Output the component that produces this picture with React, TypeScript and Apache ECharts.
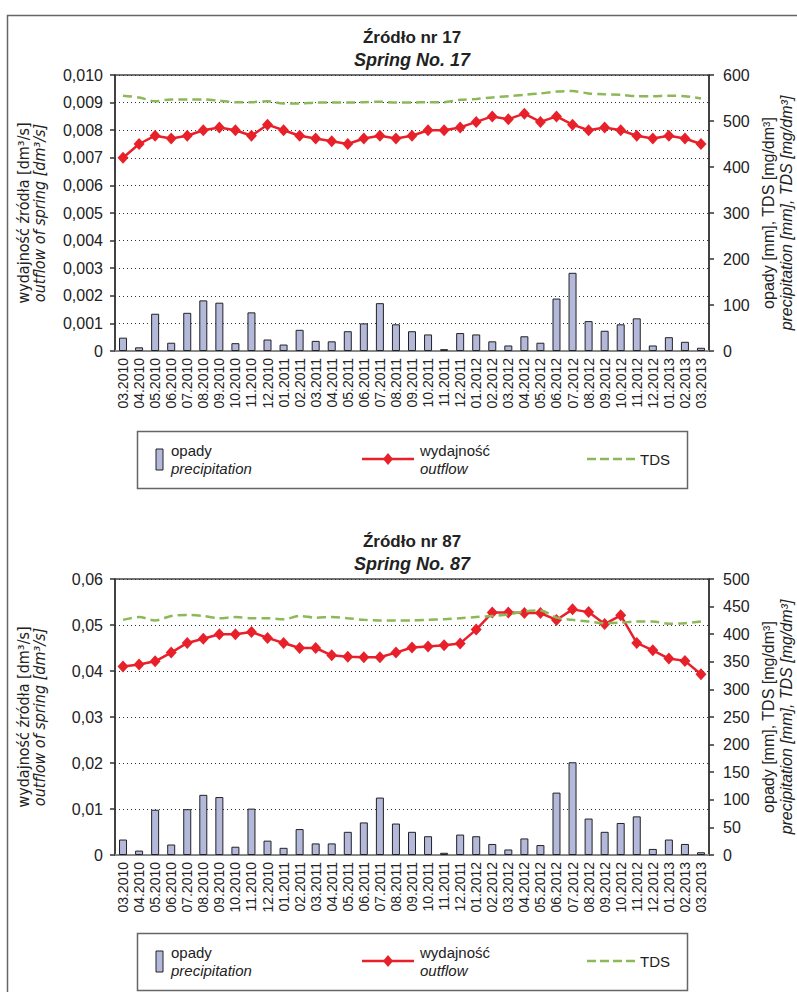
import React, { useEffect, useRef } from "react";
import * as echarts from "echarts";

const categories = [
  "03.2010", "04.2010", "05.2010", "06.2010", "07.2010", "08.2010", "09.2010", "10.2010", "11.2010", "12.2010",
  "01.2011", "02.2011", "03.2011", "04.2011", "05.2011", "06.2011", "07.2011", "08.2011", "09.2011", "10.2011",
  "11.2011", "12.2011", "01.2012", "02.2012", "03.2012", "04.2012", "05.2012", "06.2012", "07.2012", "08.2012",
  "09.2012", "10.2012", "11.2012", "12.2012", "01.2013", "02.2013", "03.2013",
];

// Spring No. 17
const precip17 = [29, 8, 81, 18, 83, 110, 105, 17, 84, 25, 14, 46, 22, 21, 43, 60, 104, 58, 43, 36, 4, 39, 36, 21, 12, 32, 18, 114, 170, 65, 44, 58, 71, 12, 30, 20, 7];
const outflow17 = [0.0070, 0.0075, 0.0078, 0.0077, 0.0078, 0.0080, 0.0081, 0.0080, 0.0078, 0.0082, 0.0080, 0.0078, 0.0077, 0.0076, 0.0075, 0.0077, 0.0078, 0.0077, 0.0078, 0.0080, 0.0080, 0.0081, 0.0083, 0.0085, 0.0084, 0.0086, 0.0083, 0.0085, 0.0082, 0.0080, 0.0081, 0.0080, 0.0078, 0.0077, 0.0078, 0.0077, 0.0075];
const tds17 = [555, 551, 543, 547, 547, 547, 544, 541, 541, 543, 538, 538, 540, 540, 540, 541, 542, 540, 540, 541, 541, 546, 548, 551, 554, 557, 560, 564, 565, 560, 558, 557, 554, 554, 555, 554, 549];

// Spring No. 87
const precip87 = [28, 8, 82, 19, 83, 109, 105, 15, 84, 26, 13, 47, 21, 21, 42, 59, 104, 57, 42, 34, 4, 37, 34, 20, 10, 30, 18, 113, 168, 66, 42, 58, 70, 11, 28, 20, 5];
const outflow87 = [0.0410, 0.0414, 0.0421, 0.0440, 0.0461, 0.0470, 0.0480, 0.0480, 0.0485, 0.0472, 0.0461, 0.0450, 0.0450, 0.0434, 0.0431, 0.0430, 0.0430, 0.0440, 0.0451, 0.0453, 0.0456, 0.0460, 0.0490, 0.0527, 0.0527, 0.0526, 0.0526, 0.0511, 0.0534, 0.0528, 0.0502, 0.0521, 0.0461, 0.0445, 0.0427, 0.0422, 0.0393];
const tds87 = [426, 431, 425, 433, 435, 433, 429, 431, 429, 429, 427, 433, 430, 431, 429, 426, 425, 425, 425, 426, 427, 429, 431, 433, 436, 441, 443, 430, 426, 423, 420, 421, 423, 423, 419, 420, 423];

const titles1 = ["Źródło nr 17", "Źródło nr 87"];
const titles2 = ["Spring No. 17", "Spring No. 87"];
const leftTitle1 = "wydajność źródła [dm³/s]";
const leftTitle2 = "outflow of spring [dm³/s]";
const rightTitle1 = "opady [mm], TDS [mg/dm³]";
const rightTitle2 = "precipitation [mm], TDS [mg/dm³]";
const legendNames = [["opady", "precipitation"], ["wydajność", "outflow"], ["TDS"]];

const FONT = "'Liberation Sans', Arial, Helvetica, sans-serif";
const NARROW = "'Liberation Sans Narrow', 'Arial Narrow', 'DejaVu Sans Condensed', 'Liberation Sans', sans-serif";
const TEXT_COLOR = "#222";
const BAR_COLOR = "#b4b9dc";
const RED = "#e8202a";
const GREEN = "#8db858";

const GRID_LEFT = 115;
const GRID_RIGHT = 797 - 709;
const GRID_H = 276;
const TOPS = [75, 579];

function txt(x: number, y: number, text: string, o: any = {}) {
  const align = o.align || "center";
  const valign = o.valign || "middle";
  return {
    type: "text",
    x,
    y,
    rotation: o.rotation || 0,
    silent: true,
    z: 100,
    style: {
      text,
      fill: o.fill || TEXT_COLOR,
      fontSize: o.fontSize || 15,
      fontFamily: o.fontFamily || FONT,
      fontWeight: o.fontWeight || "normal",
      fontStyle: o.fontStyle || "normal",
      align,
      verticalAlign: valign,
      textAlign: align,
      textVerticalAlign: valign,
    },
  };
}

function legend(y0: number) {
  const els: any[] = [];
  els.push({
    type: "rect",
    silent: true,
    shape: { x: 137.5, y: y0 + 0.5, width: 550, height: 57 },
    style: { fill: "#fff", stroke: "#666", lineWidth: 1.5 },
    z: 50,
  });
  const my = y0 + 28;
  // bar icon
  els.push({
    type: "rect",
    silent: true,
    shape: { x: 156, y: my - 10, width: 7, height: 21 },
    style: { fill: BAR_COLOR, stroke: "#222", lineWidth: 1 },
    z: 60,
  });
  els.push(txt(171, my - 9, legendNames[0][0], { align: "left" }));
  els.push(txt(171, my + 9, legendNames[0][1], { align: "left", fontStyle: "italic" }));
  // outflow icon
  els.push({
    type: "line",
    silent: true,
    shape: { x1: 362, y1: my, x2: 414, y2: my },
    style: { stroke: RED, lineWidth: 2.5 },
    z: 60,
  });
  els.push({
    type: "polygon",
    silent: true,
    shape: { points: [[388, my - 6], [393, my], [388, my + 6], [383, my]] },
    style: { fill: RED },
    z: 61,
  });
  els.push(txt(420, my - 9, legendNames[1][0], { align: "left" }));
  els.push(txt(420, my + 9, legendNames[1][1], { align: "left", fontStyle: "italic" }));
  // TDS icon
  els.push({
    type: "line",
    silent: true,
    shape: { x1: 587, y1: my, x2: 638, y2: my },
    style: { stroke: GREEN, lineWidth: 2.5, lineDash: [9, 4] },
    z: 60,
  });
  els.push(txt(640, my, legendNames[2][0], { align: "left" }));
  return els;
}

export default function App() {
  const ref = useRef<HTMLDivElement>(null);

  useEffect(() => {
    if (!ref.current) return;
    const chart = echarts.init(ref.current, undefined, { renderer: "svg" });

    const grids = TOPS.map((t) => ({
      left: GRID_LEFT,
      right: GRID_RIGHT,
      top: t,
      height: GRID_H,
      show: true,
      borderColor: "#444",
      borderWidth: 1.5,
      backgroundColor: "transparent",
      containLabel: false,
    }));

    const xAxes = [0, 1].map((g) => ({
      type: "category",
      gridIndex: g,
      data: categories,
      boundaryGap: true,
      axisLine: { show: true, lineStyle: { color: "#888", width: 2 } },
      axisTick: { show: false },
      axisLabel: {
        rotate: 90,
        interval: 0,
        margin: 7,
        fontSize: 14,
        fontFamily: FONT,
        color: TEXT_COLOR,
      },
      splitLine: { show: false },
    }));

    const leftAxis = (g: number, max: number, interval: number, digits: number) => ({
      type: "value",
      gridIndex: g,
      position: "left",
      min: 0,
      max,
      interval,
      axisLine: { show: true, lineStyle: { color: "#333", width: 1.5 } },
      axisTick: { show: true, length: 5, lineStyle: { color: "#333", width: 1.5 } },
      axisLabel: {
        margin: 12,
        fontSize: 16,
        fontFamily: FONT,
        color: TEXT_COLOR,
        formatter: (v: number) => (v === 0 ? "0" : v.toFixed(digits).replace(".", ",")),
      },
      splitLine: { show: true, lineStyle: { color: "#333", type: [1, 3], width: 1 } },
    });
    const rightAxis = (g: number, max: number, interval: number) => ({
      type: "value",
      gridIndex: g,
      position: "right",
      min: 0,
      max,
      interval,
      axisLine: { show: true, lineStyle: { color: "#333", width: 1.5 } },
      axisTick: { show: true, length: 5, lineStyle: { color: "#333", width: 1.5 } },
      axisLabel: { margin: 14, fontSize: 16, fontFamily: FONT, color: TEXT_COLOR },
      splitLine: { show: false },
    });

    const yAxes = [
      leftAxis(0, 0.01, 0.001, 3),
      rightAxis(0, 600, 100),
      leftAxis(1, 0.06, 0.01, 2),
      rightAxis(1, 500, 50),
    ];

    const mkSeries = (g: number, precip: number[], outflow: number[], tds: number[]) => [
      {
        type: "bar",
        name: "opady",
        xAxisIndex: g,
        yAxisIndex: g * 2 + 1,
        data: precip,
        barWidth: 8,
        itemStyle: { color: BAR_COLOR, borderColor: "#222", borderWidth: 1 },
        z: 2,
      },
      {
        type: "line",
        name: "wydajność",
        xAxisIndex: g,
        yAxisIndex: g * 2,
        data: outflow,
        symbol: "diamond",
        symbolSize: [11, 12],
        itemStyle: { color: RED },
        lineStyle: { color: RED, width: 2.5 },
        z: 3,
      },
      {
        type: "line",
        name: "TDS",
        xAxisIndex: g,
        yAxisIndex: g * 2 + 1,
        data: tds,
        symbol: "none",
        smooth: 0.3,
        lineStyle: { color: GREEN, width: 2.5, type: [9, 5] },
        z: 4,
      },
    ];

    const graphics: any[] = [
      {
        type: "rect",
        silent: true,
        shape: { x: 7.5, y: 15.5, width: 900, height: 1200 },
        style: { fill: "none", stroke: "#666", lineWidth: 1.5 },
        z: 1,
      },
    ];
    TOPS.forEach((t, i) => {
      const off = t - TOPS[0];
      const mid = t + GRID_H / 2;
      graphics.push(txt(412, 37 + off, titles1[i], { fontSize: 17, fontWeight: "bold" }));
      graphics.push(txt(412, 60 + off, titles2[i], { fontSize: 18, fontWeight: "bold", fontStyle: "italic" }));
      graphics.push(txt(23, mid, leftTitle1, { rotation: Math.PI / 2, fontSize: 16, fontFamily: NARROW }));
      graphics.push(txt(39, mid, leftTitle2, { rotation: Math.PI / 2, fontSize: 16, fontFamily: NARROW, fontStyle: "italic" }));
      graphics.push(txt(768, mid, rightTitle1, { rotation: Math.PI / 2, fontSize: 16 }));
      graphics.push(txt(786, mid, rightTitle2, { rotation: Math.PI / 2, fontSize: 16, fontStyle: "italic" }));
    });
    graphics.push(...legend(431));
    graphics.push(...legend(933));

    chart.setOption({
      animation: false,
      backgroundColor: "#fff",
      textStyle: { fontFamily: FONT },
      grid: grids,
      xAxis: xAxes,
      yAxis: yAxes,
      series: [...mkSeries(0, precip17, outflow17, tds17), ...mkSeries(1, precip87, outflow87, tds87)],
      graphic: graphics,
    });

    return () => chart.dispose();
  }, []);

  return (
    <div
      ref={ref}
      style={{ position: "absolute", left: 0, top: 0, width: 797, height: 992 }}
    />
  );
}
